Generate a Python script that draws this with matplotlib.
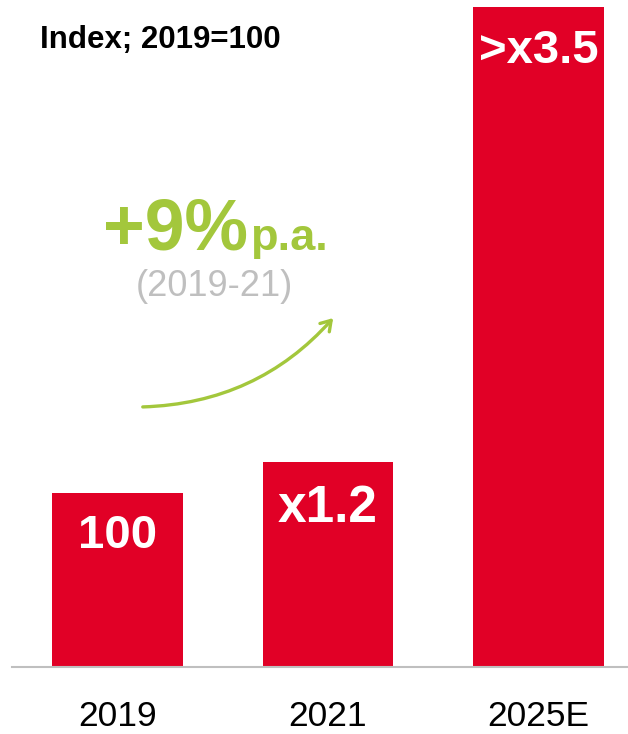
import matplotlib
matplotlib.use("Agg")
import matplotlib.pyplot as plt

plt.rcParams['font.family'] = ['Liberation Sans', 'DejaVu Sans']

# data
years = ["2019", "2021", "2025E"]
index_values = [100, 118, 379]
bar_labels = ["100", "x1.2", ">x3.5"]

RED = "#E10026"
GREEN = "#A3C73C"
GREY = "#BFBFBF"
# label sizes / offsets (pt) per bar
label_size = [34, 37, 34]
label_off = [-31, -34, -31]

W, H = 628, 734
fig = plt.figure(figsize=(W / 100, H / 100), dpi=100)
# axes spans from the grey base line up to the top edge
ax = fig.add_axes([12 / W, (H - 667) / H, (W - 12) / W, 667 / H])

x = list(range(len(years)))
bars = ax.bar(x, index_values, width=0.62, color=RED, zorder=2)
ax.set_xlim(-0.5, 2.425)
ax.set_ylim(0, 383.3)

for rect, lab, fs, off in zip(bars, bar_labels, label_size, label_off):
    ax.annotate(lab, (rect.get_x() + rect.get_width() / 2, rect.get_height()),
                xytext=(0, off), textcoords="offset points",
                ha="center", va="center", color="white",
                fontsize=fs, fontweight="bold")

ax.set_xticks(x)
ax.set_xticklabels(years, fontsize=25.5)
ax.tick_params(axis="x", length=0, pad=24)
ax.set_yticks([])
for s in ["top", "right", "left"]:
    ax.spines[s].set_visible(False)
ax.spines["bottom"].set_color(GREY)
ax.spines["bottom"].set_linewidth(1.5)

# header
fig.text(40 / W, 1 - 40 / H, "Index; 2019=100", fontsize=22.5,
         fontweight="bold", ha="left", va="center", color="black")

# growth callout
fig.text(103 / W, 1 - 250 / H, "+9%", fontsize=51.5, fontweight="bold",
         color=GREEN, ha="left", va="baseline")
fig.text(250 / W, 1 - 250 / H, "p.a.", fontsize=32.5, fontweight="bold",
         color=GREEN, ha="left", va="baseline")
fig.text(214 / W, 1 - 287 / H, "(2019-21)", fontsize=26,
         color=GREY, ha="center", va="center")

ax.annotate("", xy=(335 / W, 1 - 316 / H), xycoords="figure fraction",
            xytext=(140 / W, 1 - 407 / H), textcoords="figure fraction",
            arrowprops=dict(arrowstyle="->,head_length=0.7,head_width=0.45",
                            color=GREEN, lw=2.4,
                            connectionstyle="arc3,rad=0.22"))

fig.savefig("out.png", dpi=100, facecolor="white")
